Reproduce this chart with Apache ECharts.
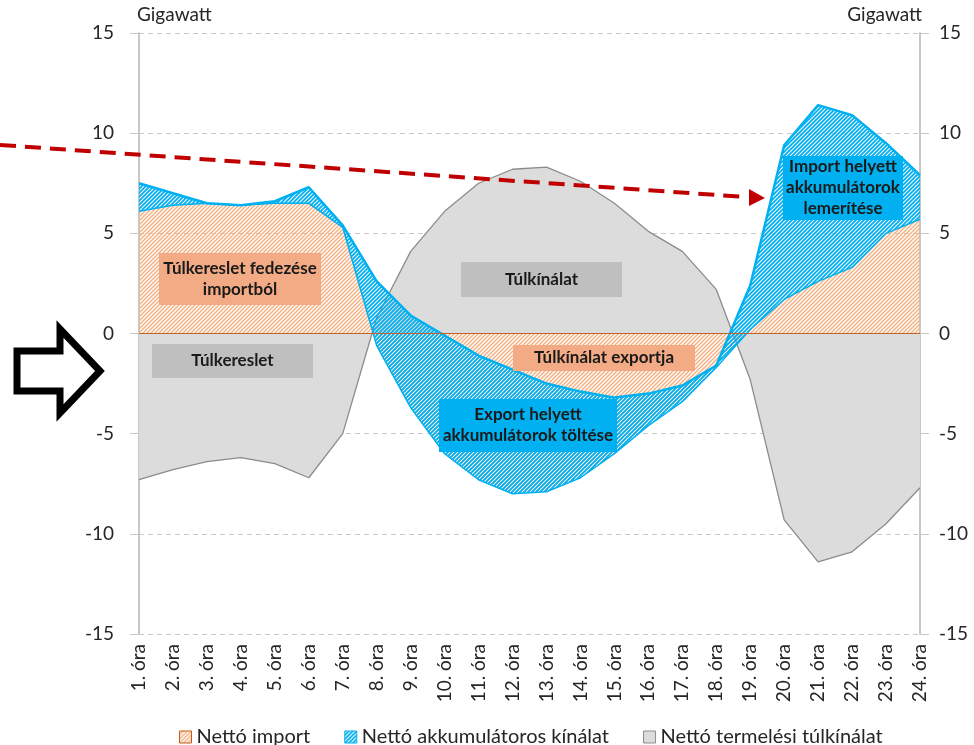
<!DOCTYPE html>
<html>
<head>
<meta charset="utf-8">
<script src="https://cdn.jsdelivr.net/npm/echarts@6/dist/echarts.min.js"></script>
<style>
html,body{margin:0;padding:0;background:#fff}
#chart{width:974px;height:745px}
</style>
</head>
<body>
<div id="chart"></div>
<script>
var hours = ['1. óra','2. óra','3. óra','4. óra','5. óra','6. óra','7. óra','8. óra','9. óra','10. óra','11. óra','12. óra',
	'13. óra','14. óra','15. óra','16. óra','17. óra','18. óra','19. óra','20. óra','21. óra','22. óra','23. óra','24. óra'];
// nettó import (első halmozott sor)
var nettoImport = [6.1, 6.4, 6.5, 6.4, 6.5, 6.5, 5.3, -0.6, -3.7, -6.0, -7.3, -8.0,
	-7.9, -7.2, -6.0, -4.6, -3.4, -1.7, 0.2, 1.7, 2.6, 3.3, 5.0, 5.7];
// nettó akkumulátoros kínálat (az importra halmozva)
var akkuKinalat = [1.4, 0.6, 0.0, 0.0, 0.1, 0.8, 0.1, 3.2, 4.6, 5.9, 6.2, 6.2,
	5.4, 4.3, 2.8, 1.6, 0.8, 0.1, 2.2, 7.7, 8.8, 7.6, 4.5, 2.2];
// nettó termelési túlkínálat
var termelesiTulkinalat = [-7.3, -6.8, -6.4, -6.2, -6.5, -7.2, -5.0, 0.8, 4.1, 6.1, 7.5, 8.2,
	8.3, 7.6, 6.5, 5.1, 4.1, 2.2, -2.3, -9.3, -11.4, -10.9, -9.5, -7.7];
var yMin = -15, yMax = 15, yStep = 5;

var FONT = 'Lato';

var hatch = function (fg, bg, size, lw) {
	var c = document.createElement('canvas');
	c.width = size; c.height = size;
	var ctx = c.getContext('2d');
	if (bg) {
		ctx.fillStyle = bg;
		ctx.fillRect(0, 0, size, size);
	}
	ctx.strokeStyle = fg;
	ctx.lineWidth = lw;
	ctx.beginPath();
	ctx.moveTo(-1, size + 1); ctx.lineTo(size + 1, -1);
	ctx.moveTo(-1, 1); ctx.lineTo(1, -1);
	ctx.moveTo(size - 1, size + 1); ctx.lineTo(size + 1, size - 1);
	ctx.stroke();
	return { image: c, repeat: 'repeat' };
};

var orangeHatch = hatch('#f4b183', null, 4, 1.5);
var blueHatch = hatch('#00b0f0', null, 4, 1.8);
var orangeHatchLegend = hatch('#f4b183', '#fff', 4, 1.5);
var blueHatchLegend = hatch('#00b0f0', '#fff', 4, 1.8);

// címkedobozok a rajzterületen
var box = function (x, y, w, h, fill, text) {
	return [
		{ type: 'rect', z: 100, shape: { x: x, y: y, width: w, height: h }, style: { fill: fill } },
		{
			type: 'text', z: 101,
			x: x + w / 2, y: y + h / 2,
			style: {
				text: text,
				align: 'center', verticalAlign: 'middle',
				font: 'bold 17px ' + FONT, fill: '#1a1a1a', lineHeight: 21
			}
		}
	];
};

var chart = echarts.init(document.getElementById('chart'));

var yAxisBase = function (pos) {
	return {
		type: 'value',
		position: pos,
		min: yMin, max: yMax, interval: yStep,
		name: 'Gigawatt',
		nameLocation: 'end',
		nameGap: 9,
		nameTextStyle: { fontFamily: FONT, fontSize: 19, color: '#262626', align: pos === 'left' ? 'left' : 'right', padding: pos === 'left' ? [0, 0, 0, -2] : [0, -2, 0, 0] },
		axisLine: { show: true, lineStyle: { color: '#c8c8c8', width: 2 } },
		axisTick: { show: true, length: 9, lineStyle: { color: '#c8c8c8' } },
		axisLabel: { fontFamily: FONT, fontSize: 19, color: '#262626', margin: pos === 'left' ? 25 : 19 },
		splitLine: { show: pos === 'left', lineStyle: { color: '#c8c8c8', type: [5, 4], width: 1 } }
	};
};

var graphics = [
	{
		type: 'line', z: 50,
		shape: { x1: 0, y1: 145, x2: 746, y2: 197 },
		style: { stroke: '#c00000', lineWidth: 4, lineDash: [16, 9] }
	},
	{
		type: 'polygon', z: 50,
		shape: { points: [[749, 189], [765, 198], [749, 206]] },
		style: { fill: '#c00000' }
	},
	{
		type: 'polygon', z: 50,
		shape: { points: [[17, 351], [60, 351], [60, 329], [100, 371], [60, 413], [60, 391], [17, 391]] },
		style: { fill: '#fff', stroke: '#000', lineWidth: 7, lineJoin: 'miter' }
	}
].concat(
	box(159, 253, 162, 52, '#f3ab85', 'Túlkereslet fedezése\nimportból'),
	box(461, 262, 161, 35, '#bfbfbf', 'Túlkínálat'),
	box(152, 344, 161, 34, '#bfbfbf', 'Túlkereslet'),
	box(513, 345, 182, 26, '#f3ab85', 'Túlkínálat exportja'),
	box(439, 399, 178, 53, '#00b0f0', 'Export helyett\nakkumulátorok töltése'),
	box(783, 156, 120, 64, '#00b0f0', 'Import helyett\nakkumulátorok\nlemerítése')
);

chart.setOption({
	animation: false,
	grid: { left: 139, right: 54, top: 33, bottom: 111 },
	legend: {
		left: 174,
		bottom: -7,
		icon: 'rect',
		itemWidth: 12,
		itemHeight: 12,
		itemGap: 34,
		textStyle: { fontFamily: FONT, fontSize: 20, color: '#262626' },
		data: [
			{ name: 'Nettó import', itemStyle: { color: orangeHatchLegend, borderColor: '#c55a11', borderWidth: 1 } },
			{ name: 'Nettó akkumulátoros kínálat', itemStyle: { color: blueHatchLegend, borderColor: '#00b0f0', borderWidth: 1 } },
			{ name: 'Nettó termelési túlkínálat', itemStyle: { color: '#dcdcdc', borderColor: '#8c8c8c', borderWidth: 1 } }
		]
	},
	xAxis: {
		type: 'category',
		data: hours,
		boundaryGap: false,
		axisLine: { show: false, onZero: false },
		axisTick: { show: false },
		axisLabel: { rotate: 90, fontFamily: FONT, fontSize: 19, color: '#262626', margin: 10 },
		splitLine: { show: false }
	},
	yAxis: [yAxisBase('left'), yAxisBase('right')],
	series: [
		{
			name: 'Nettó termelési túlkínálat',
			type: 'line',
			data: termelesiTulkinalat,
			symbol: 'none',
			lineStyle: { color: '#8c8c8c', width: 1.3 },
			itemStyle: { color: '#dcdcdc' },
			areaStyle: { color: '#dcdcdc', opacity: 1 },
			z: 1
		},
		{
			name: 'Nettó import',
			type: 'line',
			stack: 'ossz',
			stackStrategy: 'all',
			data: nettoImport,
			symbol: 'none',
			lineStyle: { color: '#00b0f0', width: 1.5 },
			itemStyle: { color: '#f4b183' },
			areaStyle: { color: orangeHatch, opacity: 1 },
			markLine: {
				silent: true,
				symbol: 'none',
				label: { show: false },
				lineStyle: { color: '#c0632a', width: 1.2, type: 'solid' },
				data: [{ yAxis: 0 }]
			},
			z: 2
		},
		{
			name: 'Nettó akkumulátoros kínálat',
			type: 'line',
			stack: 'ossz',
			stackStrategy: 'all',
			data: akkuKinalat,
			symbol: 'none',
			lineStyle: { color: '#00b0f0', width: 2.5 },
			itemStyle: { color: '#00b0f0' },
			areaStyle: { color: blueHatch, opacity: 1 },
			z: 3
		}
	],
	graphic: graphics
});
</script>
</body>
</html>
